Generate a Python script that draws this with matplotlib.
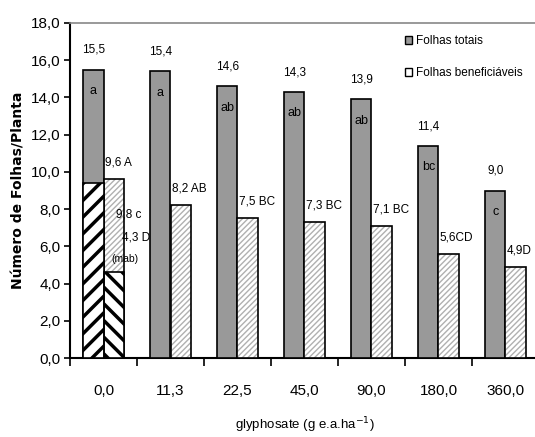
import matplotlib
matplotlib.use("Agg")
import matplotlib.pyplot as plt
from matplotlib.patches import Patch
import numpy as np

categories = ["0,0", "11,3", "22,5", "45,0", "90,0", "180,0", "360,0"]
totais = [15.5, 15.4, 14.6, 14.3, 13.9, 11.4, 9.0]
benef = [9.6, 8.2, 7.5, 7.3, 7.1, 5.6, 4.9]
letras_totais = ["a", "a", "ab", "ab", "ab", "bc", "c"]
letras_benef = ["A", "AB", "BC", "BC", "BC", "CD", "D"]
benef_sep = [" ", " ", " ", " ", " ", "", ""]
# black-hatched overlay (first treatment)
overlay_totais = [9.4]
overlay_benef = [4.6]
overlay_labels = ["9,8 c", "4,3 D", "(mab)"]
yticks = [0, 2, 4, 6, 8, 10, 12, 14, 16, 18]

plt.rcParams['font.family'] = ['Liberation Sans', 'DejaVu Sans']

fig = plt.figure(figsize=(5.35, 4.37), dpi=100)
ax = fig.add_axes([70/535, 1-358/437, 469/535, 335/437])

x = np.arange(len(categories))
w = 0.3
gray = '#999999'

ax.bar(x - w/2, totais, width=w, color=gray, edgecolor='black', linewidth=1.2, zorder=3)
ax.bar(x + w/2, benef, width=w, color='white', edgecolor='#b0b0b0', linewidth=0, hatch='//////', zorder=3)
ax.bar(x + w/2, benef, width=w, fill=False, edgecolor='black', linewidth=1.2, zorder=4)

o1 = ax.bar(x[:1] - w/2, overlay_totais, width=w, color='white', edgecolor='black', linewidth=0, hatch='//', zorder=5)
o2 = ax.bar(x[:1] + w/2, overlay_benef, width=w, color='white', edgecolor='black', linewidth=0, hatch='\\\\', zorder=5)
for p in list(o1) + list(o2):
    if hasattr(p, 'set_hatch_linewidth'):
        p.set_hatch_linewidth(2.5)
ax.bar(x[:1] - w/2, overlay_totais, width=w, fill=False, edgecolor='black', linewidth=1.2, zorder=6)
ax.bar(x[:1] + w/2, overlay_benef, width=w, fill=False, edgecolor='black', linewidth=1.2, zorder=6)

def fmt(v):
    return f"{v:.1f}".replace('.', ',')

for i in range(len(categories)):
    ax.text(x[i] - w/2, totais[i] + 1.05, fmt(totais[i]), ha='center', va='center', fontsize=8.5, zorder=7)
    ax.text(x[i] - w/2, totais[i] - 1.15, letras_totais[i], ha='center', va='center', fontsize=9, zorder=7)
    ax.text(x[i] + 0.02, benef[i] + 0.9, fmt(benef[i]) + benef_sep[i] + letras_benef[i],
            ha='left', va='center', fontsize=8.5, zorder=7)

ax.text(x[0] + 0.18, 7.7, overlay_labels[0], ha='left', va='center', fontsize=8.5, zorder=7)
ax.text(x[0] + 0.28, 6.45, overlay_labels[1], ha='left', va='center', fontsize=8.5, zorder=7)
ax.text(x[0] + 0.12, 5.3, overlay_labels[2], ha='left', va='center', fontsize=7.5, zorder=7)

ax.set_xlim(-0.5, len(categories) - 0.5)
ax.set_ylim(0, 18)
ax.set_yticks(yticks)
ax.set_yticklabels([fmt(v) for v in yticks], fontsize=11)
ax.tick_params(axis='y', direction='out', length=4, width=1.2, pad=3)

ax.set_xticks(x)
ax.set_xticklabels(categories, fontsize=11)
ax.set_xticks(np.arange(-0.5, len(categories) - 0.4, 1), minor=True)
ax.tick_params(axis='x', which='major', length=0, pad=19)
ax.tick_params(axis='x', which='minor', direction='out', length=6, width=1.2)

ax.spines['right'].set_visible(False)
ax.spines['top'].set_color('#888888')
ax.spines['top'].set_linewidth(1.2)
ax.spines['left'].set_linewidth(1.5)
ax.spines['bottom'].set_linewidth(1.5)

ax.set_ylabel("Número de Folhas/Planta", fontsize=10, fontweight='bold', family='DejaVu Sans', labelpad=4)
ax.set_xlabel("glyphosate (g e.a.ha$^{-1}$)", fontsize=9.5, labelpad=0)
ax.xaxis.set_label_coords(0.5, (358 - 415) / 335)

handles = [Patch(facecolor=gray, edgecolor='black', linewidth=1.0),
           Patch(facecolor='white', edgecolor='black', linewidth=1.0)]
leg = ax.legend(handles, ["Folhas totais", "Folhas beneficiáveis"], loc='upper left',
                bbox_to_anchor=(405/535, 1-35/437), bbox_transform=fig.transFigure,
                frameon=False, fontsize=8.5, handlelength=0.6, handleheight=0.6,
                handletextpad=0.3, labelspacing=1.7, borderaxespad=0, borderpad=0)

fig.savefig("out.png", dpi=100)
